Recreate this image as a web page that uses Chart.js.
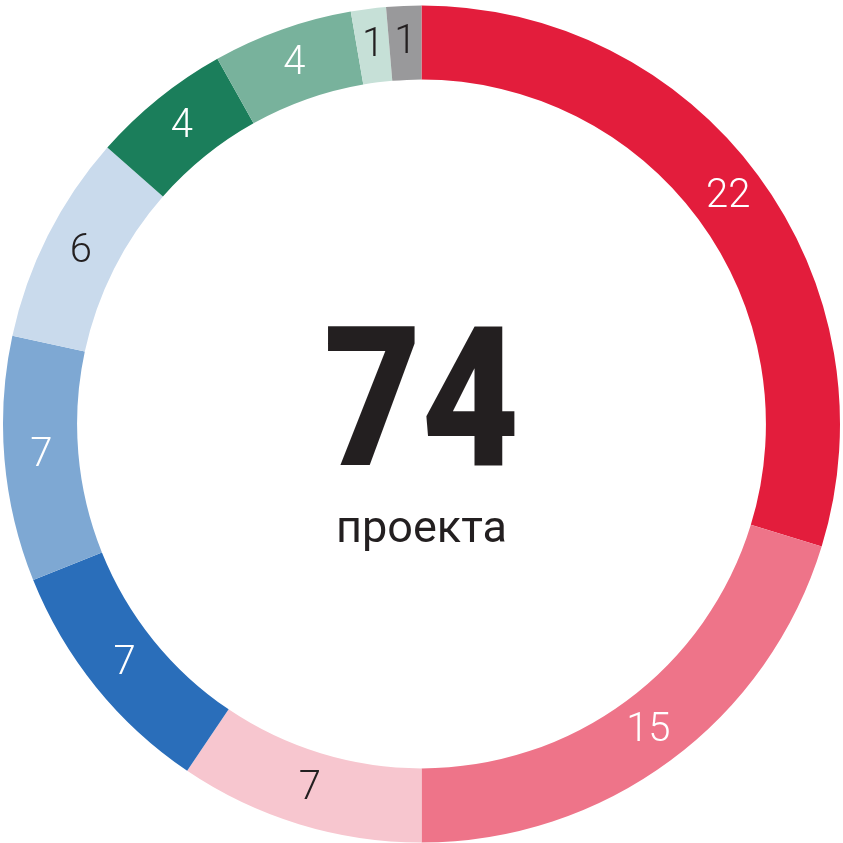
<!DOCTYPE html>
<html>
<head>
<meta charset="utf-8">
<script src="https://cdn.jsdelivr.net/npm/chart.js@4"></script>
<style>
  html, body { margin: 0; padding: 0; background: #fff; }
  #wrap { width: 843px; height: 843px; }
</style>
</head>
<body>
<div id="wrap"><canvas id="donut" width="843" height="843"></canvas></div>
<script>
const values = [22, 15, 7, 7, 7, 6, 4, 4, 1, 1];
const colors = ["#E31D3C", "#EE7489", "#F7C6CF", "#2A6EBA", "#7EA8D3", "#C9DAEC", "#1B7E5B", "#78B29C", "#C6E0D7", "#99999B"];
const labelColors = ["#fff", "#fff", "#231F20", "#fff", "#fff", "#231F20", "#fff", "#fff", "#231F20", "#231F20"];
const totalText = "74";
const subText = "проекта";

// labels on the ring + the big number in the middle
const ringLabels = {
    id: 'ringLabels',
    afterDatasetsDraw(chart) {
        const c = chart.ctx;
        const meta = chart.getDatasetMeta(0);
        c.save();
        c.textAlign = 'center';
        c.textBaseline = 'middle';
        c.font = '300 40px Roboto';
        meta.data.forEach((arc, i) => {
            const p = arc.tooltipPosition();
            c.fillStyle = labelColors[i];
            c.fillText(String(values[i]), p.x, p.y);
        });

        const cx = (chart.chartArea.left + chart.chartArea.right) / 2;
        c.fillStyle = '#231F20';
        c.textBaseline = 'alphabetic';
        // big number, a bit narrower like the original font
        c.save();
        c.translate(cx, 465);
        c.scale(0.87, 1);
        c.font = '900 194px Roboto';
        c.fillText(totalText, 0, 0);
        c.restore();
        c.font = '400 45px Roboto';
        c.fillText(subText, cx, 542);
        c.restore();
    }
};

new Chart(document.getElementById('donut').getContext('2d'), {
    type: 'doughnut',
    data: {
        labels: values.map(String),
        datasets: [{
            data: values,
            backgroundColor: colors,
            borderWidth: 0
        }]
    },
    options: {
        responsive: false,
        animation: false,
        cutout: '82.3%',
        layout: { padding: { top: 5, left: 3, right: 3, bottom: 0 } },
        plugins: {
            legend: { display: false },
            tooltip: { enabled: false }
        }
    },
    plugins: [ringLabels]
});
</script>
</body>
</html>
